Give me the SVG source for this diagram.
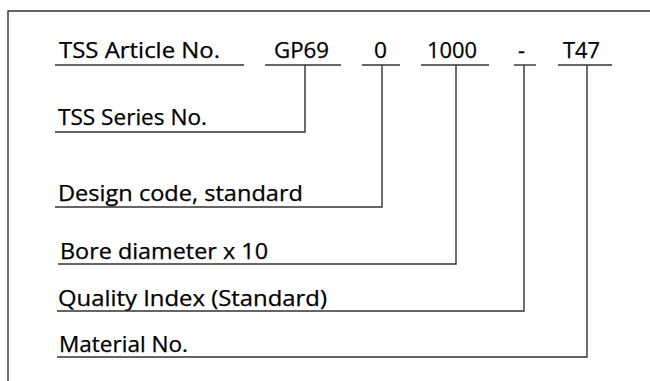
<svg xmlns="http://www.w3.org/2000/svg" width="650" height="381" viewBox="0 0 650 381">
<style>
text{font-family:"Open Sans","Noto Sans","Liberation Sans",sans-serif;font-size:21px;fill:#000;stroke:#000;stroke-width:0.25}
.ln{fill:none;stroke:#333;stroke-width:1.4}
</style>
<rect width="650" height="381" fill="#fff"/>
<g id="frame"><polyline class="ln" points="8,381 8,11 650,11"/></g>
<g id="article"><text x="59" y="58" textLength="161" lengthAdjust="spacingAndGlyphs">TSS Article No.</text><line class="ln" x1="55" y1="65" x2="244" y2="65"/></g>
<g id="gp69"><text x="274" y="58" textLength="55" lengthAdjust="spacingAndGlyphs">GP69</text><line class="ln" x1="265" y1="65" x2="341" y2="65"/></g>
<g id="zero"><text x="374" y="58" textLength="13" lengthAdjust="spacingAndGlyphs">0</text><line class="ln" x1="362" y1="65" x2="400" y2="65"/></g>
<g id="bore-code"><text x="427" y="58" textLength="50" lengthAdjust="spacingAndGlyphs">1000</text><line class="ln" x1="421" y1="65" x2="489" y2="65"/></g>
<g id="dash"><text x="518" y="58" textLength="7" lengthAdjust="spacingAndGlyphs">-</text><line class="ln" x1="514" y1="65" x2="536" y2="65"/></g>
<g id="t47"><text x="563" y="58" textLength="37" lengthAdjust="spacingAndGlyphs">T47</text><line class="ln" x1="558" y1="65" x2="612" y2="65"/></g>
<g id="series"><text x="58" y="125" textLength="149" lengthAdjust="spacingAndGlyphs">TSS Series No.</text></g>
<g id="design"><text x="58" y="201" textLength="245" lengthAdjust="spacingAndGlyphs">Design code, standard</text></g>
<g id="bore"><text x="60" y="259" textLength="208" lengthAdjust="spacingAndGlyphs">Bore diameter x 10</text></g>
<g id="quality"><text x="58" y="306" textLength="269" lengthAdjust="spacingAndGlyphs">Quality Index (Standard)</text></g>
<g id="material"><text x="59" y="352" textLength="129" lengthAdjust="spacingAndGlyphs">Material No.</text></g>
<g id="connectors">
<polyline class="ln" points="305,65 305,132 55,132"/>
<polyline class="ln" points="382,65 382,207 55,207"/>
<polyline class="ln" points="456,65 456,264 58,264"/>
<polyline class="ln" points="524,65 524,311 57,311"/>
<polyline class="ln" points="587,65 587,357 57,357"/>
</g>
</svg>
